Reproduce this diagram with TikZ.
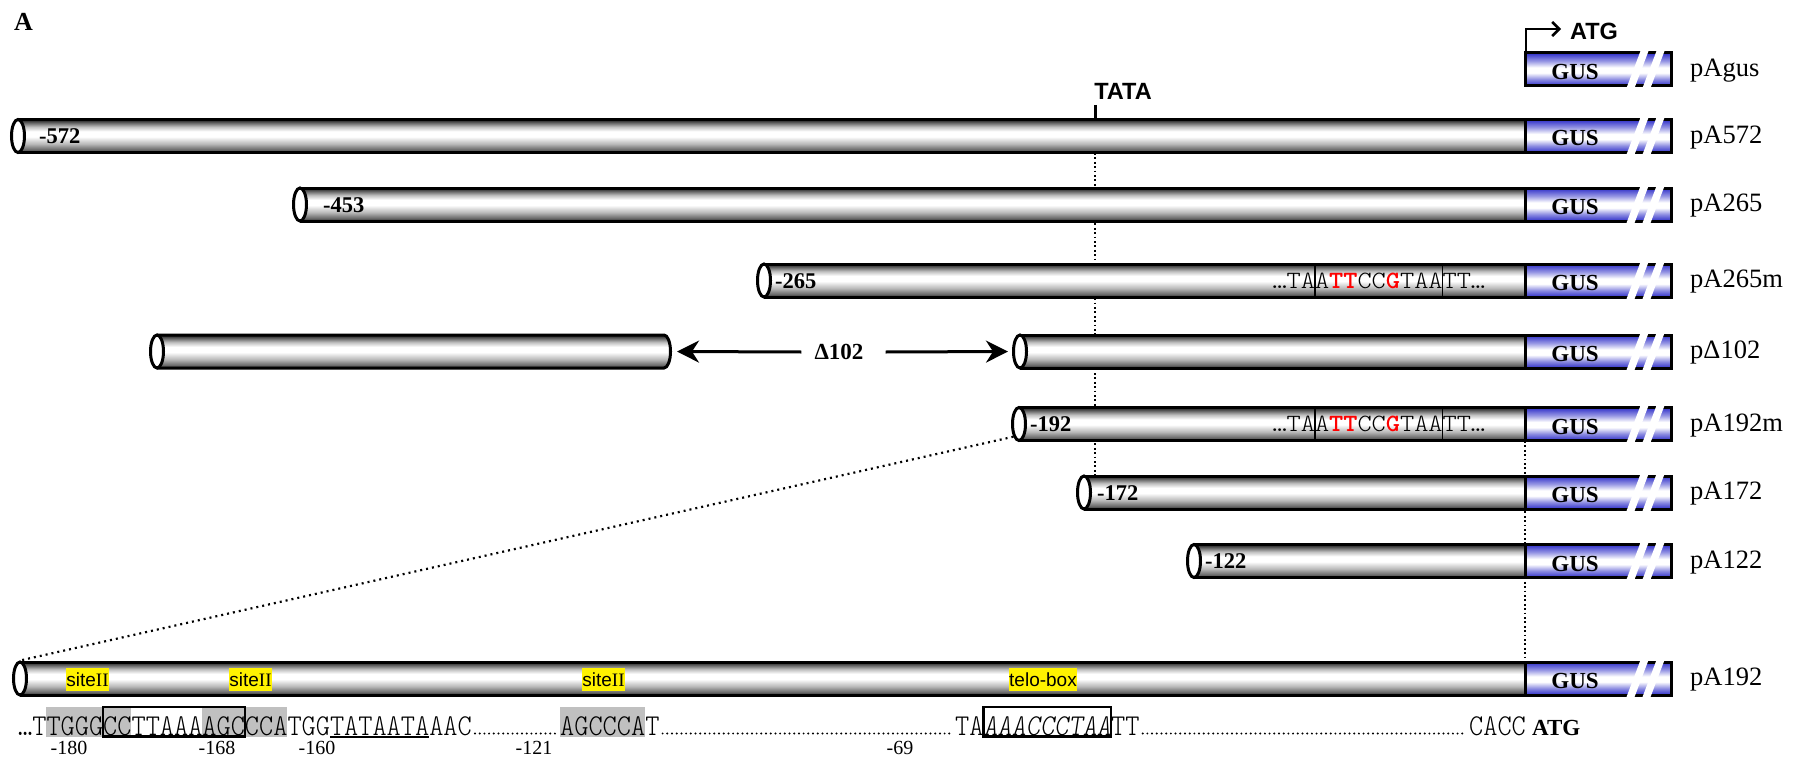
\documentclass[tikz,border=0pt]{standalone}
\usepackage{fontspec}
\setmainfont{Liberation Serif}
\setsansfont{Liberation Sans}
\newfontfamily\lmmbold{lmmonolt10-bold}[Extension=.otf]
\usetikzlibrary{arrows.meta,shapes.geometric}
\definecolor{gusblue}{RGB}{45,45,200}
\definecolor{hlgray}{RGB}{192,192,192}
\pgfdeclareverticalshading{tube}{100bp}{color(0bp)=(black!85); color(25bp)=(black!85); color(29bp)=(black!60); color(38bp)=(black!28); color(49bp)=(white); color(57bp)=(white); color(64bp)=(black!25); color(70bp)=(black!60); color(75bp)=(black!90); color(100bp)=(black!90)}
\pgfdeclareverticalshading{gus}{100bp}{color(0bp)=(gusblue); color(25bp)=(gusblue); color(35bp)=(gusblue!55); color(45bp)=(white); color(53bp)=(white); color(63bp)=(gusblue!50); color(75bp)=(gusblue); color(100bp)=(gusblue)}
\newcommand\tubebar[4]{%
  \shade[shading=tube] (#2,#3-16.5) rectangle (#4,#3+16.5);
  \draw[outl] (#2,#3-16.5) -- (#4,#3-16.5) -- (#4,#3+16.5) -- (#2,#3+16.5);
  \node[endcap] (#1) at (#2,#3) {};
}
\newcommand\gusbox[2]{%
  \shade[shading=gus] (1525,#2-16.5) rectangle (1671,#2+16.5);
  \draw[outl] (1525,#2-16.5) rectangle (1671,#2+16.5);
  \fill[white] (1626.5,#2+18.5) -- (1634.5,#2+18.5) -- (1648.5,#2-18.5) -- (1640.5,#2-18.5) -- cycle;
  \fill[white] (1642.5,#2+18.5) -- (1650.5,#2+18.5) -- (1664.5,#2-18.5) -- (1656.5,#2-18.5) -- cycle;
  \node[gustext] (#1) at (1575,#2+10) {GUS};
}
\newcommand\redbold[1]{\textcolor{red}{\lmmbold\fontsize{27}{30}\selectfont #1}}
\newcommand\mutseq[2]{%
  \draw[line width=1.8pt] (1314.8,#2-16.5) rectangle (1442.4,#2+16.5);
  \node[seqfont] (#1) at (1272.3,#2+7.5) {\scalebox{1}[0.92]{…TAA\redbold{TT}CC\redbold{G}TAATT…}};
}
\begin{document}
\begin{tikzpicture}[x=1pt,y=-1pt,
  outl/.style={draw=black,line width=3pt},
  endcap/.style={ellipse,draw=black,line width=3pt,fill=white,minimum width=13pt,minimum height=33pt,inner sep=0pt},
  rowlab/.style={font=\fontsize{26.5}{30}\selectfont,anchor=base west,inner sep=0pt},
  barnum/.style={font=\fontsize{22.5}{26}\selectfont\bfseries,anchor=base west,inner sep=0pt},
  gustext/.style={font=\fontsize{23}{26}\selectfont\bfseries,anchor=base,inner sep=0pt},
  sanslab/.style={font=\fontsize{23.5}{27}\selectfont\sffamily\bfseries,inner sep=0pt},
  sitebox/.style={fill=yellow,inner xsep=0.5pt,inner ysep=0pt,minimum height=23pt,font=\fontsize{19}{22}\selectfont},
  posnum/.style={font=\fontsize{20}{24}\selectfont,anchor=base,inner sep=0pt},
  seqfont/.style={font=\ttfamily\fontseries{l}\fontsize{27}{30}\selectfont,anchor=base west,inner sep=0pt},
  dotv/.style={line width=2pt,dash pattern=on 1.8pt off 2.6pt},
  dotz/.style={line width=2.2pt,dash pattern=on 2pt off 4pt},
  dotfill/.style={line width=2.2pt,line cap=round,dash pattern=on 0pt off 4.7pt},
  darr/.style={line width=3pt,-{Stealth[length=22pt,width=22pt,inset=7pt]}},
]
\fill[white] (0,0) rectangle (1801,757);
\useasboundingbox (0,0) rectangle (1801,757);

\node[font=\fontsize{26}{30}\selectfont\bfseries,anchor=base west,inner sep=0pt] (panelA) at (14,31) {A};

% dotted guide lines (under the bars)
\coordinate (tataTick) at (1095,105);
\coordinate (tataBar) at (1095,119);
\coordinate (tataTop) at (1095,153);
\coordinate (tataBot) at (1095,477);
\draw[dotv] (tataTop) -- (tataBot);
\coordinate (gusTop) at (1525,441);
\coordinate (gusBot) at (1525,662);
\draw[dotv] (gusTop) -- (gusBot);

% ATG start arrow
\node[sanslab] (atg) at (1594,31) {ATG};
\coordinate (atgBase) at (1526,53);
\coordinate (atgCorner) at (1526,29);
\coordinate (atgTip) at (1561,29);
\draw[line width=2.6pt,-{Straight Barb[length=7pt,width=14pt]}] (atgBase) -- (atgCorner) -- (atgTip);

% TATA
\node[sanslab] (tata) at (1123,91) {TATA};
\draw[line width=3pt] (tataTick) -- (tataBar);

% rows
\gusbox{gus0}{69.5}
\node[rowlab] (l0) at (1690,76.5) {pAgus};

\tubebar{e572}{18}{136}{1525}
\gusbox{gus1}{136}
\node[barnum] (n572) at (39,143.5) {-572};
\node[rowlab] (l1) at (1690,143) {pA572};

\tubebar{e453}{300}{204.5}{1525}
\gusbox{gus2}{204.5}
\node[barnum] (n453) at (323,212) {-453};
\node[rowlab] (l2) at (1690,211.5) {pA265};

\tubebar{e265}{764}{280.5}{1525}
\mutseq{m265}{280.5}
\gusbox{gus3}{280.5}
\node[barnum] (n265) at (775,288) {-265};
\node[rowlab] (l3) at (1690,287.5) {pA265m};

% delta 102
\shade[shading=tube] (157,335) -- (664,335) arc[start angle=-90,end angle=90,x radius=6.5,y radius=16.5] -- (157,368) -- cycle;
\draw[outl] (157,335) -- (664,335) arc[start angle=-90,end angle=90,x radius=6.5,y radius=16.5] -- (157,368);
\node[endcap] (e102L) at (157,351.5) {};
\coordinate (e102Lcap) at (670.5,351.5);
\tubebar{e102}{1020}{351.5}{1525}
\gusbox{gus4}{351.5}
\node[font=\fontsize{23}{26}\selectfont\bfseries,inner sep=0pt] (d102) at (839,352) {Δ102};
\draw[darr] ([xshift=-13pt]d102.west) -- ([xshift=6.5pt]e102Lcap);
\draw[darr] ([xshift=22pt]d102.east) -- ([xshift=-4pt]e102.west);
\node[rowlab] (l4) at (1690,358.5) {pΔ102};

\tubebar{e192m}{1019}{424}{1525}
\mutseq{m192}{424}
\gusbox{gus5}{424}
\node[barnum] (n192m) at (1030,431.5) {-192};
\node[rowlab] (l5) at (1690,431) {pA192m};

\tubebar{e172}{1084}{492.5}{1525}
\gusbox{gus6}{492.5}
\node[barnum] (n172) at (1097,500) {-172};
\node[rowlab] (l6) at (1690,499.5) {pA172};

\tubebar{e122}{1194}{561}{1525}
\gusbox{gus7}{561}
\node[barnum] (n122) at (1205,568.5) {-122};
\node[rowlab] (l7) at (1690,568) {pA122};

\tubebar{e192}{20}{678.5}{1525}
\gusbox{gus8}{678.5}
\node[rowlab] (l8) at (1690,685.5) {pA192};
\node[sitebox] (site1) at (87.5,679.5) {{\sffamily site}II};
\node[sitebox] (site2) at (250.5,679.5) {{\sffamily site}II};
\node[sitebox] (site3) at (603.5,679.5) {{\sffamily site}II};
\node[sitebox] (telo) at (1043,679.5) {\sffamily telo-box};

% zoom line
\draw[dotz] (e192m.south west) -- (e192.north);

% sequence
\fill[hlgray] (46.35,707) rectangle (131.4,737);
\fill[hlgray] (202.3,707) rectangle (287.3,737);
\fill[hlgray] (560,707) rectangle (645.05,737);
\node[seqfont] (s1) at (18,735) {\scalebox{1}[1.12]{…TTGGGCCTTAAAAGCCCATGGTATAATAAAC}};
\draw[line width=2.5pt] (103.05,707) rectangle (244.8,736.5);
\draw[line width=1.5pt] (329.9,737) -- (429.1,737);
\node[seqfont] (s2) at (560,735) {\scalebox{1}[1.12]{AGCCCAT}};
\node[seqfont] (s3) at (955,735) {\scalebox{1}[1.12]{TA\textit{AAACCCTAA}TT}};
\draw[line width=2.5pt] (983.35,707) rectangle (1110.9,736.5);
\node[seqfont] (s4) at (1469,735) {\scalebox{1}[1.12]{CACC}};
\node[font=\fontsize{23}{26}\selectfont\bfseries,anchor=base west,inner sep=0pt] (atg2) at (1532,735) {ATG};
\draw[dotfill] ([shift={(3,-1.5)}]s1.base east) -- ([shift={(-3,-1.5)}]s2.base west);
\draw[dotfill] ([shift={(3,-1.5)}]s2.base east) -- ([shift={(-3,-1.5)}]s3.base west);
\draw[dotfill] ([shift={(3,-1.5)}]s3.base east) -- ([shift={(-3,-1.5)}]s4.base west);

% positions
\node[posnum] (p180) at (69,754) {-180};
\node[posnum] (p168) at (217,754) {-168};
\node[posnum] (p160) at (317,754) {-160};
\node[posnum] (p121) at (534,754) {-121};
\node[posnum] (p69) at (900,754) {-69};
\end{tikzpicture}
\end{document}
